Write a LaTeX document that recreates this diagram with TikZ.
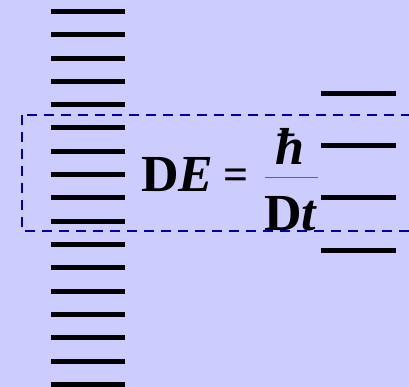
\documentclass[tikz,border=0pt]{standalone}
\usepackage{fontspec}
\setmainfont{Liberation Serif}
\definecolor{bgc}{RGB}{204,204,255}
\definecolor{navy}{RGB}{0,0,160}
\begin{document}
\begin{tikzpicture}[x=1pt,y=-1pt,
  level/.style={line width=5pt,black},
  eq/.style={inner sep=0pt,font=\fontsize{52}{52}\selectfont\bfseries},
  eqsign/.style={inner sep=0pt,font=\fontsize{44}{44}\selectfont\bfseries},
  box/.style={draw=navy,line width=2.6pt,dash pattern=on 10pt off 7pt}]
\fill[bgc] (0,0) rectangle (409,387);
\useasboundingbox (0,0) rectangle (409,387);
% left levels
\foreach \i in {0,...,16}{
  \pgfmathsetmacro{\yy}{11.5+23.3*\i}
  \coordinate (l\i a) at (51,\yy);
  \coordinate (l\i b) at (125,\yy);
  \draw[level] (l\i a) -- (l\i b);
}
% right levels
\foreach \i/\yy in {0/94,1/146,2/198,3/250}{
  \coordinate (r\i a) at (321,\yy);
  \coordinate (r\i b) at (396,\yy);
  \draw[level] (r\i a) -- (r\i b);
}
% dashed box
\coordinate (bx1) at (22,115);
\coordinate (bx2) at (415,231);
\draw[box] (bx1) rectangle (bx2);
% formula
\node[eq,anchor=base west] (de) at (141,192) {D\textit{E}};
\node[eqsign,anchor=center] (eqs) at (236.5,179) {=};
\node[eq,anchor=base] (hb) at (290,165) {\textit{ħ}};
\node[eq,anchor=base] (dt) at (291,230) {D\textit{t}};
\coordinate (fb1) at (265,178);
\coordinate (fb2) at (318,178);
\draw[line width=1pt,black!60] (fb1) -- (fb2);
\end{tikzpicture}
\end{document}
